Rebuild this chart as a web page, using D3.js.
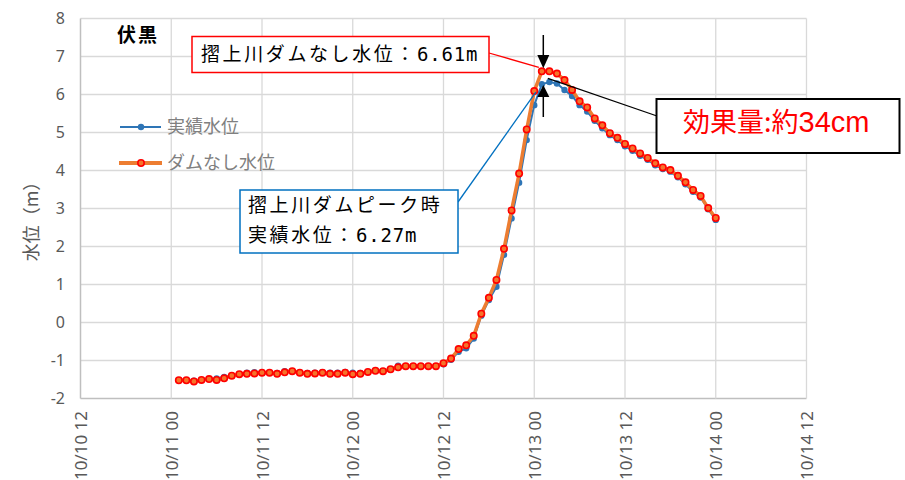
<!DOCTYPE html>
<html><head><meta charset="utf-8">
<script src="https://cdn.jsdelivr.net/npm/d3@7"></script>
<style>body{margin:0;background:#fff}svg{display:block}</style>
</head><body>
<svg id="c" width="905" height="480"></svg>
<script>
// ---- data ----
const stationName = "伏黒";
const seriesNames = ["実績水位", "ダムなし水位"];
const startTime = Date.UTC(2019, 9, 11, 1); // 10/11 01:00, hourly
const actualLevel = [-1.52,-1.52,-1.53,-1.51,-1.49,-1.47,-1.43,-1.40,-1.36,-1.32,-1.31,-1.32,-1.32,-1.33,-1.28,-1.28,-1.32,-1.33,-1.32,-1.31,-1.32,-1.32,-1.30,-1.32,-1.33,-1.30,-1.27,-1.28,-1.23,-1.14,-1.15,-1.15,-1.15,-1.15,-1.15,-1.10,
  -0.98,-0.77,-0.68,-0.42,0.18,0.59,0.94,1.78,2.74,3.68,4.80,5.72,
  6.27,6.33,6.29,6.12,5.96,5.72,5.55,5.31,5.11,4.93,4.80,4.64,4.52,4.39,4.28,4.14,4.04,3.97,3.82,3.64,3.44,3.29,2.98,2.70];
const noDamLevel = [-1.52,-1.52,-1.55,-1.51,-1.49,-1.51,-1.47,-1.40,-1.36,-1.35,-1.34,-1.32,-1.32,-1.35,-1.31,-1.28,-1.32,-1.35,-1.34,-1.32,-1.35,-1.35,-1.32,-1.36,-1.35,-1.30,-1.27,-1.28,-1.23,-1.18,-1.15,-1.15,-1.15,-1.15,-1.15,-1.07,
  -0.95,-0.70,-0.60,-0.35,0.23,0.65,1.12,1.94,2.95,3.92,5.08,6.09,
  6.61,6.61,6.55,6.38,6.12,5.82,5.66,5.37,5.19,4.98,4.86,4.70,4.58,4.45,4.33,4.19,4.08,4.01,3.86,3.69,3.49,3.33,3.01,2.75];
const yTicks = [-2,-1,0,1,2,3,4,5,6,7,8];
const yTitle = "水位（m）";
const peakIndex = 48; // 10/13 01:00
const noteNoDam = ["摺上川ダムなし水位：", "6.61m"];
const noteActual = [["摺上川ダムピーク時", ""], ["実績水位：", "6.27m"]];
const noteEffect = ["効果量:約", "34cm"];

// ---- layout ----
const svg = d3.select("#c");
const L = 80.5, R = 806.5, T = 18.5, B = 398.5;
const x = d3.scaleUtc().domain([Date.UTC(2019,9,10,12), Date.UTC(2019,9,14,12)]).range([L, R]);
const y = d3.scaleLinear().domain([-2, 8]).range([B, T]);
const times = actualLevel.map((_, i) => new Date(startTime + i * 3600e3));
const xTicks = d3.utcHour.every(12).range(new Date(Date.UTC(2019,9,10,12)), new Date(Date.UTC(2019,9,14,13)));
const fmt = d3.utcFormat("%m/%d %H");
const FONT = "'Noto Sans CJK JP','Noto Sans',sans-serif";
const MONO = "'DejaVu Sans Mono','Liberation Mono',monospace";
const gray = "#595959";

// gridlines
const grid = svg.append("g");
grid.selectAll(".h").data(yTicks).join("line")
  .attr("x1", L).attr("x2", R).attr("y1", d => y(d)).attr("y2", d => y(d))
  .attr("stroke", d => d === -2 ? "#BFBFBF" : "#D9D9D9").attr("stroke-width", d => d === -2 ? 1.5 : 1.3);
grid.selectAll(".v").data(xTicks).join("line")
  .attr("x1", d => x(d)).attr("x2", d => x(d)).attr("y1", T).attr("y2", B)
  .attr("stroke", (d, i) => i === 0 ? "#BFBFBF" : "#D9D9D9").attr("stroke-width", (d, i) => i === 0 ? 1.5 : 1.3);

// y tick labels
svg.append("g").selectAll("text").data(yTicks).join("text")
  .attr("x", 65).attr("y", d => y(d)).attr("dy", "0.35em").attr("text-anchor", "end")
  .attr("font-family", "'Noto Sans',sans-serif").attr("font-size", 16).attr("fill", gray).text(d => d);
// x tick labels (rotated)
svg.append("g").selectAll("text").data(xTicks).join("text")
  .attr("transform", d => `translate(${x(d)},411) rotate(-90)`)
  .attr("text-anchor", "end").attr("dominant-baseline", "central")
  .attr("font-family", "'Noto Sans',sans-serif").attr("font-size", 17).attr("fill", gray).text(d => fmt(d));
// y title
svg.append("text").attr("transform", "translate(30,217) rotate(-90)")
  .attr("text-anchor", "middle").attr("dominant-baseline", "central")
  .attr("font-family", FONT).attr("font-size", 18).attr("fill", gray).text(yTitle);

// series
const line = d3.line().x((d, i) => x(times[i])).y(d => y(d));
const blue = "#2E75B6", orange = "#ED7D31";
svg.append("path").datum(actualLevel).attr("d", line).attr("fill", "none").attr("stroke", blue).attr("stroke-width", 2);
svg.append("g").selectAll("circle").data(actualLevel).join("circle")
  .attr("cx", (d, i) => x(times[i])).attr("cy", d => y(d)).attr("r", 3.2).attr("fill", blue);
svg.append("path").datum(noDamLevel).attr("d", line).attr("fill", "none").attr("stroke", orange).attr("stroke-width", 3.5);
svg.append("g").selectAll("circle").data(noDamLevel).join("circle")
  .attr("cx", (d, i) => x(times[i])).attr("cy", d => y(d)).attr("r", 3.2)
  .attr("fill", "#F5732A").attr("stroke", "#FF0000").attr("stroke-width", 1.6);

// station label
svg.append("text").attr("x", 117).attr("y", 35).attr("dy", "0.35em")
  .attr("font-family", FONT).attr("font-weight", "bold").attr("font-size", 19).attr("letter-spacing", 2).attr("fill", "#000").text(stationName);

// legend
const lg = svg.append("g");
lg.append("line").attr("x1", 120).attr("x2", 161).attr("y1", 127).attr("y2", 127).attr("stroke", blue).attr("stroke-width", 2);
lg.append("circle").attr("cx", 141).attr("cy", 127).attr("r", 3.2).attr("fill", blue);
lg.append("text").attr("x", 167).attr("y", 127).attr("dy", "0.35em").attr("font-family", FONT).attr("font-size", 18).attr("fill", "#808080").text(seriesNames[0]);
lg.append("line").attr("x1", 119).attr("x2", 162).attr("y1", 163).attr("y2", 163).attr("stroke", orange).attr("stroke-width", 4);
lg.append("circle").attr("cx", 141).attr("cy", 163).attr("r", 3.2).attr("fill", "#F5732A").attr("stroke", "#FF0000").attr("stroke-width", 1.6);
lg.append("text").attr("x", 167).attr("y", 163).attr("dy", "0.35em").attr("font-family", FONT).attr("font-size", 18).attr("fill", "#808080").text(seriesNames[1]);

// helper: box text with full-width part spaced + half-width monospace part
function boxText(xp, yp, parts) {
  const t = svg.append("text").attr("x", xp).attr("y", yp).attr("dy", "0.35em").attr("fill", "#000");
  t.append("tspan").attr("font-family", FONT).attr("font-size", 19).attr("letter-spacing", 2.6).text(parts[0]);
  if (parts[1]) t.append("tspan").attr("font-family", MONO).attr("font-size", 19).attr("letter-spacing", 0.8).text(parts[1]);
}

// annotations
const px = x(times[peakIndex]);
const pyNo = y(noDamLevel[peakIndex]), pyAc = y(actualLevel[peakIndex]);
// red box + leader
svg.append("line").attr("x1", 489).attr("y1", 53).attr("x2", px - 3).attr("y2", pyNo - 4).attr("stroke", "#FF0000").attr("stroke-width", 1.3);
svg.append("rect").attr("x", 192).attr("y", 36.5).attr("width", 297).attr("height", 36).attr("fill", "#fff").attr("stroke", "#FF0000").attr("stroke-width", 1.5);
boxText(201, 55, noteNoDam);
// blue box + leader
svg.append("line").attr("x1", 458).attr("y1", 202).attr("x2", px - 6).attr("y2", pyAc + 8).attr("stroke", "#0070C0").attr("stroke-width", 1.3);
svg.append("rect").attr("x", 240).attr("y", 190).attr("width", 218).attr("height", 63).attr("fill", "#fff").attr("stroke", "#0070C0").attr("stroke-width", 1.5);
boxText(248, 206, noteActual[0]);
boxText(248, 236, noteActual[1]);
// black box + leader
svg.append("line").attr("x1", px + 6).attr("y1", pyNo + 7).attr("x2", 657).attr("y2", 116).attr("stroke", "#000").attr("stroke-width", 1.3);
svg.append("rect").attr("x", 656.5).attr("y", 99).attr("width", 243).attr("height", 54).attr("fill", "#fff").attr("stroke", "#000").attr("stroke-width", 2);
const et = svg.append("text").attr("x", 683).attr("y", 126).attr("dy", "0.35em").attr("fill", "#FF0000");
et.append("tspan").attr("font-family", FONT).attr("font-size", 27).text(noteEffect[0]);
et.append("tspan").attr("font-family", "'Liberation Sans',Arial,sans-serif").attr("font-size", 29).text(noteEffect[1]);
// arrows
const ax = 543.3;
svg.append("line").attr("x1", ax).attr("x2", ax).attr("y1", 35).attr("y2", 56).attr("stroke", "#000").attr("stroke-width", 1.5);
svg.append("path").attr("d", `M${ax-6},55 L${ax+6},55 L${ax},${pyNo-3} Z`).attr("fill", "#000");
svg.append("line").attr("x1", ax).attr("x2", ax).attr("y1", 96).attr("y2", 117).attr("stroke", "#000").attr("stroke-width", 1.5);
svg.append("path").attr("d", `M${ax-6},97 L${ax+6},97 L${ax},85 Z`).attr("fill", "#000");
</script>
</body></html>
